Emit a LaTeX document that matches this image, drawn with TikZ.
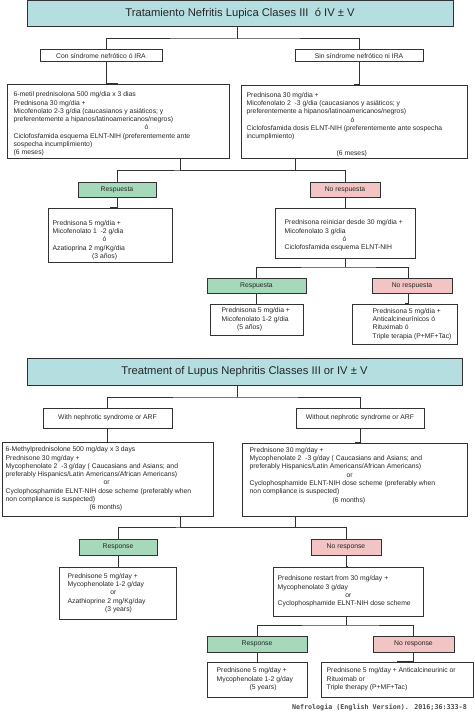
\documentclass[tikz,border=0pt]{standalone}
\usepackage{fontspec}
\setmainfont{Liberation Sans}
\newfontfamily\srcfont{DejaVu Sans Mono}
\definecolor{titleteal}{RGB}{180,222,224}
\definecolor{respgreen}{RGB}{166,216,186}
\definecolor{norespred}{RGB}{242,196,196}
\definecolor{edge}{RGB}{50,50,50}
\tikzset{
    box/.style={draw=edge, line width=1pt, inner sep=0pt, font=\fontsize{6.8}{8.3}\selectfont, text=black!85},
    sz/.style 2 args={minimum width=#1pt, minimum height=#2pt},
    titlebox/.style={box, fill=titleteal, font=\fontsize{11.2}{13}\selectfont},
    casebox/.style={box, fill=white},
    yesbox/.style={box, fill=respgreen},
    nobox/.style={box, fill=norespred},
    txt/.style={inner sep=0pt, align=left, font=\fontsize{6.8}{8.3}\selectfont, text=black!85},
    link/.style={draw=edge, line width=1pt}
}

\begin{document}
\begin{tikzpicture}[x=1pt,y=-1pt]
            \fill[white] (0,0) rectangle (474,717);
            \useasboundingbox (0,0) rectangle (474,717);

            % Spanish version
            \node[titlebox, sz={426}{26}] (t1) at (240,14) {Tratamiento Nefritis Lupica Clases III\ \ ó IV ± V};
            \node[casebox, sz={122}{12}] (c1) at (101,56) {Con síndrome nefrótico ó IRA};
            \node[casebox, sz={128}{12}] (s1) at (359,56) {Sin síndrome nefrótico ni IRA};
            \node[casebox, sz={222}{74}] (b1) at (118,121) {};
            \node[txt] at ([xshift=7pt,yshift=-3pt]b1.west)[right]{6-metil prednisolona 500 mg/dia x 3 dias\\ Prednisona 30 mg/dia +\\ Micofenolato 2-3 g/dia (caucasianos y asiáticos; y\\ preferentemente a hipanos/latinoamericanos/negros)\\ \hspace*{131pt}ó\\ Ciclofosfamida esquema ELNT-NIH (preferentemente ante\\ sospecha incumplimiento)\\ (6 meses)};
            \node[casebox, sz={226}{73}] (b2) at (354,121.5) {};
            \node[txt] at ([xshift=6pt,yshift=-3pt]b2.west)[right]{Prednisona 30 mg/dia +\\ Micofenolato 2\ \ -3 g/dia (caucasianos y asiáticos; y\\ preferentemente a hipanos/latinoamericanos/negros)\\ \hspace*{104pt}ó\\ Ciclofosfamida dosis ELNT-NIH (preferentemente ante sospecha\\ incumplimiento)\\ \mbox{}\\ \hspace*{90pt}(6 meses)};
            \node[yesbox, sz={78}{15}] (r1) at (117,189.5) {Respuesta};
            \node[nobox, sz={70}{15}] (n1) at (345,189.5) {No respuesta};
            \node[casebox, sz={124}{54}] (p1) at (110,235) {};
            \node[txt] at ([xshift=5pt,yshift=-5pt]p1.west)[right]{Prednisona 5 mg/dia +\\ Micofenolato 1\ \ -2 g/dia\\ \hspace*{50pt}ó\\ Azatioprina 2 mg/Kg/dia\\ \hspace*{39.5pt}(3 años)};
            \node[casebox, sz={140}{50}] (q1) at (345,233) {};
            \node[txt] at ([xshift=10pt,yshift=-2.5pt]q1.west)[right]{Prednisona reiniciar desde 30 mg/dia +\\ Micofenolato 3 g/dia\\ \hspace*{58pt}ó\\ Ciclofosfamida esquema ELNT-NIH};
            \node[yesbox, sz={99}{15}] (r2) at (256.5,285.5) {Respuesta};
            \node[nobox, sz={80}{15}] (n2) at (412,285.5) {No respuesta};
            \node[casebox, sz={93}{31}] (p2) at (256.5,319.5) {};
            \node[txt] at ([xshift=12pt]p2.west)[right]{Prednisona 5 mg/dia +\\ Micofenolato 1-2 g/dia\\ \hspace*{15.5pt}(5 años)};
            \node[casebox, sz={105}{40}] (q2) at (404.5,324) {};
            \node[txt] at ([xshift=21pt]q2.west)[right]{Prednisona 5 mg/dia +\\ Anticalcineurínicos ó\\ Rituximab ó\\ Triple terapia (P+MF+Tac)};

            % English version
            \node[titlebox, sz={435}{27}] (t2) at (244.5,371.5) {Treatment of Lupus Nephritis Classes III or IV ± V};
            \node[casebox, sz={129}{20}] (c2) at (107.5,418) {With nephrotic syndrome or ARF};
            \node[casebox, sz={128}{20}] (s2) at (360,418) {Without nephrotic syndrome or ARF};
            \node[casebox, sz={211}{74}] (b3) at (107.5,479) {};
            \node[txt] at ([xshift=4pt]b3.west)[right]{6-Methylprednisolone 500 mg/day x 3 days\\ Prednisone 30 mg/day +\\ Mycophenolate 2\ \ -3 g/day ( Caucasians and Asians; and\\ preferably Hispanics/Latin Americans/African Americans)\\ \hspace*{98pt}or\\ Cyclophosphamide ELNT-NIH dose scheme (preferably when\\ non compliance is suspected)\\ \hspace*{84pt}(6 months)};
            \node[casebox, sz={225}{73}] (b4) at (354.5,479.5) {};
            \node[txt] at ([xshift=8pt,yshift=4pt]b4.west)[right]{Prednisone 30 mg/day +\\ Mycophenolate 2\ \ -3 g/day ( Caucasians and Asians; and\\ preferably Hispanics/Latin Americans/African Americans)\\ \hspace*{97pt}or\\ Cyclophosphamide ELNT-NIH dose scheme (preferably when\\ non compliance is suspected)\\ \hspace*{83pt}(6 months)};
            \node[yesbox, sz={78}{16}] (r3) at (118,547) {Response};
            \node[nobox, sz={70}{16}] (n3) at (346,547) {No response};
            \node[casebox, sz={117}{52}] (p3) at (117.5,593) {};
            \node[txt] at ([xshift=9pt]p3.west)[right]{Prednisone 5 mg/day +\\ Mycophenolate 1-2 g/day\\ \hspace*{42.7pt}or\\ Azathioprine 2 mg/Kg/day\\ \hspace*{37.4pt}(3 years)};
            \node[casebox, sz={150}{49}] (q3) at (348,591.5) {};
            \node[txt] at ([xshift=5pt]q3.west)[right]{Prednisone restart from 30 mg/day +\\ Mycophenolate 3 g/day\\ \hspace*{67.7pt}or\\ Cyclophosphamide ELNT-NIH dose scheme};
            \node[yesbox, sz={100}{16}] (r4) at (257,644) {Response};
            \node[nobox, sz={81}{16}] (n4) at (413.5,644) {No response};
            \node[casebox, sz={100}{35}] (p4) at (257,679.5) {};
            \node[txt] at ([xshift=10pt]p4.west)[right]{Prednisone 5 mg/day +\\ Mycophenolate 1-2 g/day\\ \hspace*{33pt}(5 years)};
            \node[casebox, sz={152}{35}] (q4) at (397,679.5) {};
            \node[txt] at ([xshift=6pt]q4.west)[right]{Prednisone 5 mg/day + Anticalcineurinic or\\ Rituximab or\\ Triple therapy (P+MF+Tac)};

            \node[anchor=east, inner sep=0pt, text=black!70, font=\srcfont\bfseries\fontsize{6.7}{8}\selectfont] (src) at (467,707) {Nefrologia (English Version). 2016;36:333-8};

            % connectors
            \coordinate (j1) at (237,39);
            \coordinate (j2) at (230,170);
            \coordinate (j3) at (345,267);
            \coordinate (j4) at (237,397);
            \coordinate (j5) at (232,527);
            \coordinate (j6) at (346,625);
            \draw[link] (j1) -- (j1 |- t1.south);
            \draw[link] ([xshift=5pt]c1.north) |- (j1) -| (s1.north);
            \draw[link] ([xshift=5pt]c1.south) |- (b1.north);
            \draw[link] ([xshift=62pt]b1.south) |- (j2);
            \draw[link] ([xshift=-59pt]b2.south) |- (j2);
            \draw[link] (r1.north) |- (j2) -| (n1.north);
            \draw[link] (q1.south) -- (j3);
            \draw[link] (r2.north) |- (j3) -| ([xshift=-4pt]n2.north);
            \draw[link] ([xshift=-4pt]n2.south) |- (q2.north);
            \draw[link] (j4) -- (j4 |- t2.south);
            \draw[link] (c2.north) |- (j4) -| (s2.north);
            \draw[link] ([xshift=72.5pt]b3.south) |- (j5);
            \draw[link] ([xshift=-59.5pt]b4.south) |- (j5);
            \draw[link] (r3.north) |- (j5) -| (n3.north);
            \draw[link] (j6) -- (j6 |- q3.south);
            \draw[link] (r4.north) |- (j6) -| (n4.north);
            \foreach \a/\b in {s1/b2, r1/p1, n1/q1, r2/p2, c2/b3, s2/b4, r3/p3, n3/q3, r4/p4, n4/q4}{
                \draw[link] (\a.south) |- (\b.north);
            }
\end{tikzpicture}
\end{document}
